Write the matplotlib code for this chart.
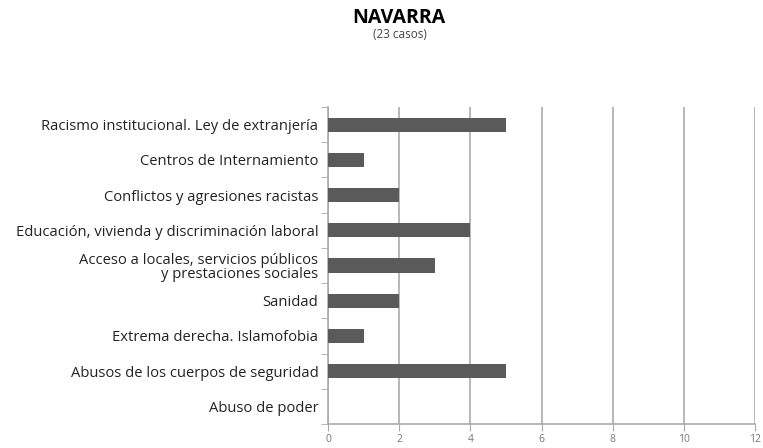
import matplotlib.pyplot as plt
import numpy as np

plt.rcParams['font.family'] = ['Open Sans', 'DejaVu Sans']

categorias = ["Racismo institucional. Ley de extranjería",
              "Centros de Internamiento",
              "Conflictos y agresiones racistas",
              "Educación, vivienda y discriminación laboral",
              "Acceso a locales, servicios públicos\ny prestaciones sociales",
              "Sanidad",
              "Extrema derecha. Islamofobia",
              "Abusos de los cuerpos de seguridad",
              "Abuso de poder"]
casos = [5, 1, 2, 4, 3, 2, 1, 5, 0]
xticks = [0, 2, 4, 6, 8, 10, 12]

fig = plt.figure(figsize=(7.63, 4.48), dpi=100)
ax = fig.add_axes([328/763, 24/448, 427/763, 317/448])

y = np.arange(len(categorias))
ax.barh(y, casos, height=0.4, color='#5a5a5a', zorder=3)
ax.set_ylim(len(categorias) - 0.5, -0.5)
ax.set_xlim(0, 12)
ax.set_xticks(xticks)
ax.set_xticklabels([str(t) for t in xticks], fontsize=7.5, color='#777777')
ax.set_yticks(y)
ax.set_yticklabels(categorias, fontsize=10.6, color='#222222', linespacing=0.95)
ax.set_yticks(np.arange(len(categorias) + 1) - 0.5, minor=True)
ax.tick_params(axis='y', which='major', length=0, pad=7)
ax.tick_params(axis='y', which='minor', length=5, color='#aaaaaa', direction='out')
ax.tick_params(axis='x', length=5, color='#aaaaaa', pad=2)
ax.grid(axis='x', color='#aaaaaa', linewidth=1.2, zorder=0)
for s in ['top', 'right']:
    ax.spines[s].set_visible(False)
for s in ['left', 'bottom']:
    ax.spines[s].set_color('#aaaaaa')
    ax.spines[s].set_linewidth(1.2)

fig.text(399/763, 1 - 18/448, "NAVARRA", fontsize=14, fontweight='bold', ha='center', va='center')
fig.text(400/763, 1 - 35/448, "(23 casos)", fontsize=8.5, color='#444444', ha='center', va='center')

plt.savefig("out.png", dpi=100)
